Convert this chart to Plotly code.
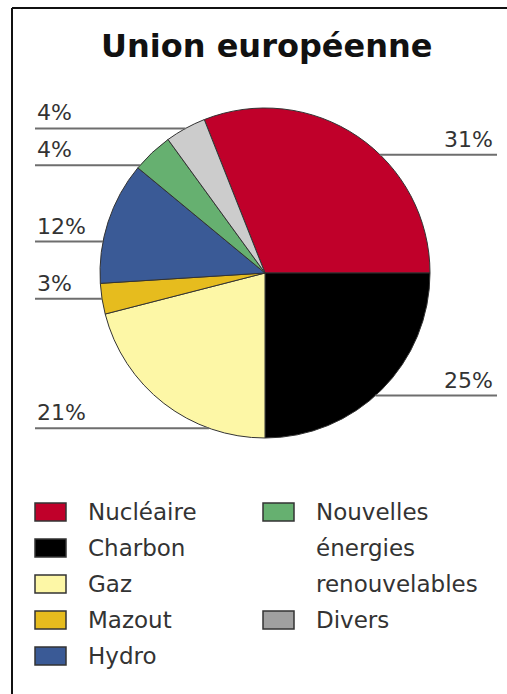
import math
import plotly.graph_objects as go

# Data
sources = ["Nucléaire", "Charbon", "Gaz", "Mazout", "Hydro",
           "Nouvelles énergies renouvelables", "Divers"]
shares = [31, 25, 21, 3, 12, 4, 4]
colors = ["#c0002a", "#000000", "#fdf7a6", "#e6bc1e", "#3a5a96", "#66b070", "#cccccc"]
legend_colors = ["#c0002a", "#000000", "#fdf7a6", "#e6bc1e", "#3a5a96", "#66b070", "#a0a0a0"]
title = "Union européenne"

W, H = 507, 694
FONT = "'DejaVu Sans', sans-serif"
TXT = "#333333"

# pie placement (pixels)
cx, cy, R = 265, 273, 165
start = -21.6  # first slice begins left of 12 o'clock
# hand-tuned nudges of leader lines away from the slice middles (degrees)
leader_nudge = [10, 3, -18, 0, -7, -6, 0]


def px(x):
    return x / W


def py(y):
    return 1 - y / H


fig = go.Figure()
fig.add_trace(go.Pie(
    labels=sources, values=shares, sort=False, direction="clockwise",
    rotation=start, textinfo="none", hoverinfo="label+percent",
    marker=dict(colors=colors, line=dict(color="#333333", width=1)),
    domain=dict(x=[px(cx - R), px(cx + R)], y=[py(cy + R), py(cy - R)]),
    showlegend=False,
))

shapes = []
annotations = []

# leader lines and percent labels
total = sum(shares)
acc = start
for i, v in enumerate(shares):
    span = 360 * v / total
    a = math.radians(acc + span / 2 + leader_nudge[i])
    acc += span
    ex = cx + R * math.sin(a)
    ey = cy - R * math.cos(a)
    right = ex > cx
    x_end = 497 if right else 35
    shapes.append(dict(type="line", xref="paper", yref="paper",
                       x0=px(ex), y0=py(ey), x1=px(x_end), y1=py(ey),
                       line=dict(color="#6e6e6e", width=2)))
    annotations.append(dict(
        text=f"{v}%", xref="paper", yref="paper",
        x=px(495 if right else 35), y=py(ey - 1),
        xanchor="right" if right else "left", yanchor="bottom",
        showarrow=False, font=dict(family=FONT, size=22, color=TXT)))

# legend, drawn by hand in two columns
row_h = 36
y0 = 512
col_x = [35, 263]
row_in_col = [0, 0]
for i, name in enumerate(sources):
    c = 0 if i < 5 else 1
    r = row_in_col[c]
    yc = y0 + r * row_h
    bx = col_x[c]
    shapes.append(dict(type="rect", xref="paper", yref="paper",
                       x0=px(bx), x1=px(bx + 31), y0=py(yc - 9), y1=py(yc + 9),
                       fillcolor=legend_colors[i],
                       line=dict(color="#333333", width=1.5)))
    words = name.split(" ") if len(name) > 14 else [name]
    for k, w in enumerate(words):
        annotations.append(dict(
            text=w, xref="paper", yref="paper",
            x=px(bx + 51), y=py(yc + k * row_h),
            xanchor="left", yanchor="middle", showarrow=False,
            font=dict(family=FONT, size=23, color=TXT)))
    row_in_col[c] += len(words)

# title
annotations.append(dict(
    text=f"<b>{title}</b>", xref="paper", yref="paper",
    x=px(266), y=py(46), xanchor="center", yanchor="middle", showarrow=False,
    font=dict(family=FONT, size=32, color="#111111")))

# frame (only top and left edges show in the crop)
shapes.append(dict(type="line", xref="paper", yref="paper",
                   x0=px(12), x1=1, y0=py(8), y1=py(8),
                   line=dict(color="#111111", width=2)))
shapes.append(dict(type="line", xref="paper", yref="paper",
                   x0=px(12), x1=px(12), y0=py(8), y1=0,
                   line=dict(color="#111111", width=2)))

fig.update_layout(
    width=W, height=H,
    margin=dict(l=0, r=0, t=0, b=0),
    paper_bgcolor="white", plot_bgcolor="white",
    shapes=shapes, annotations=annotations,
)

fig.write_html("out.html", config={"displayModeBar": False},
               post_script="document.body.style.margin='0';")
